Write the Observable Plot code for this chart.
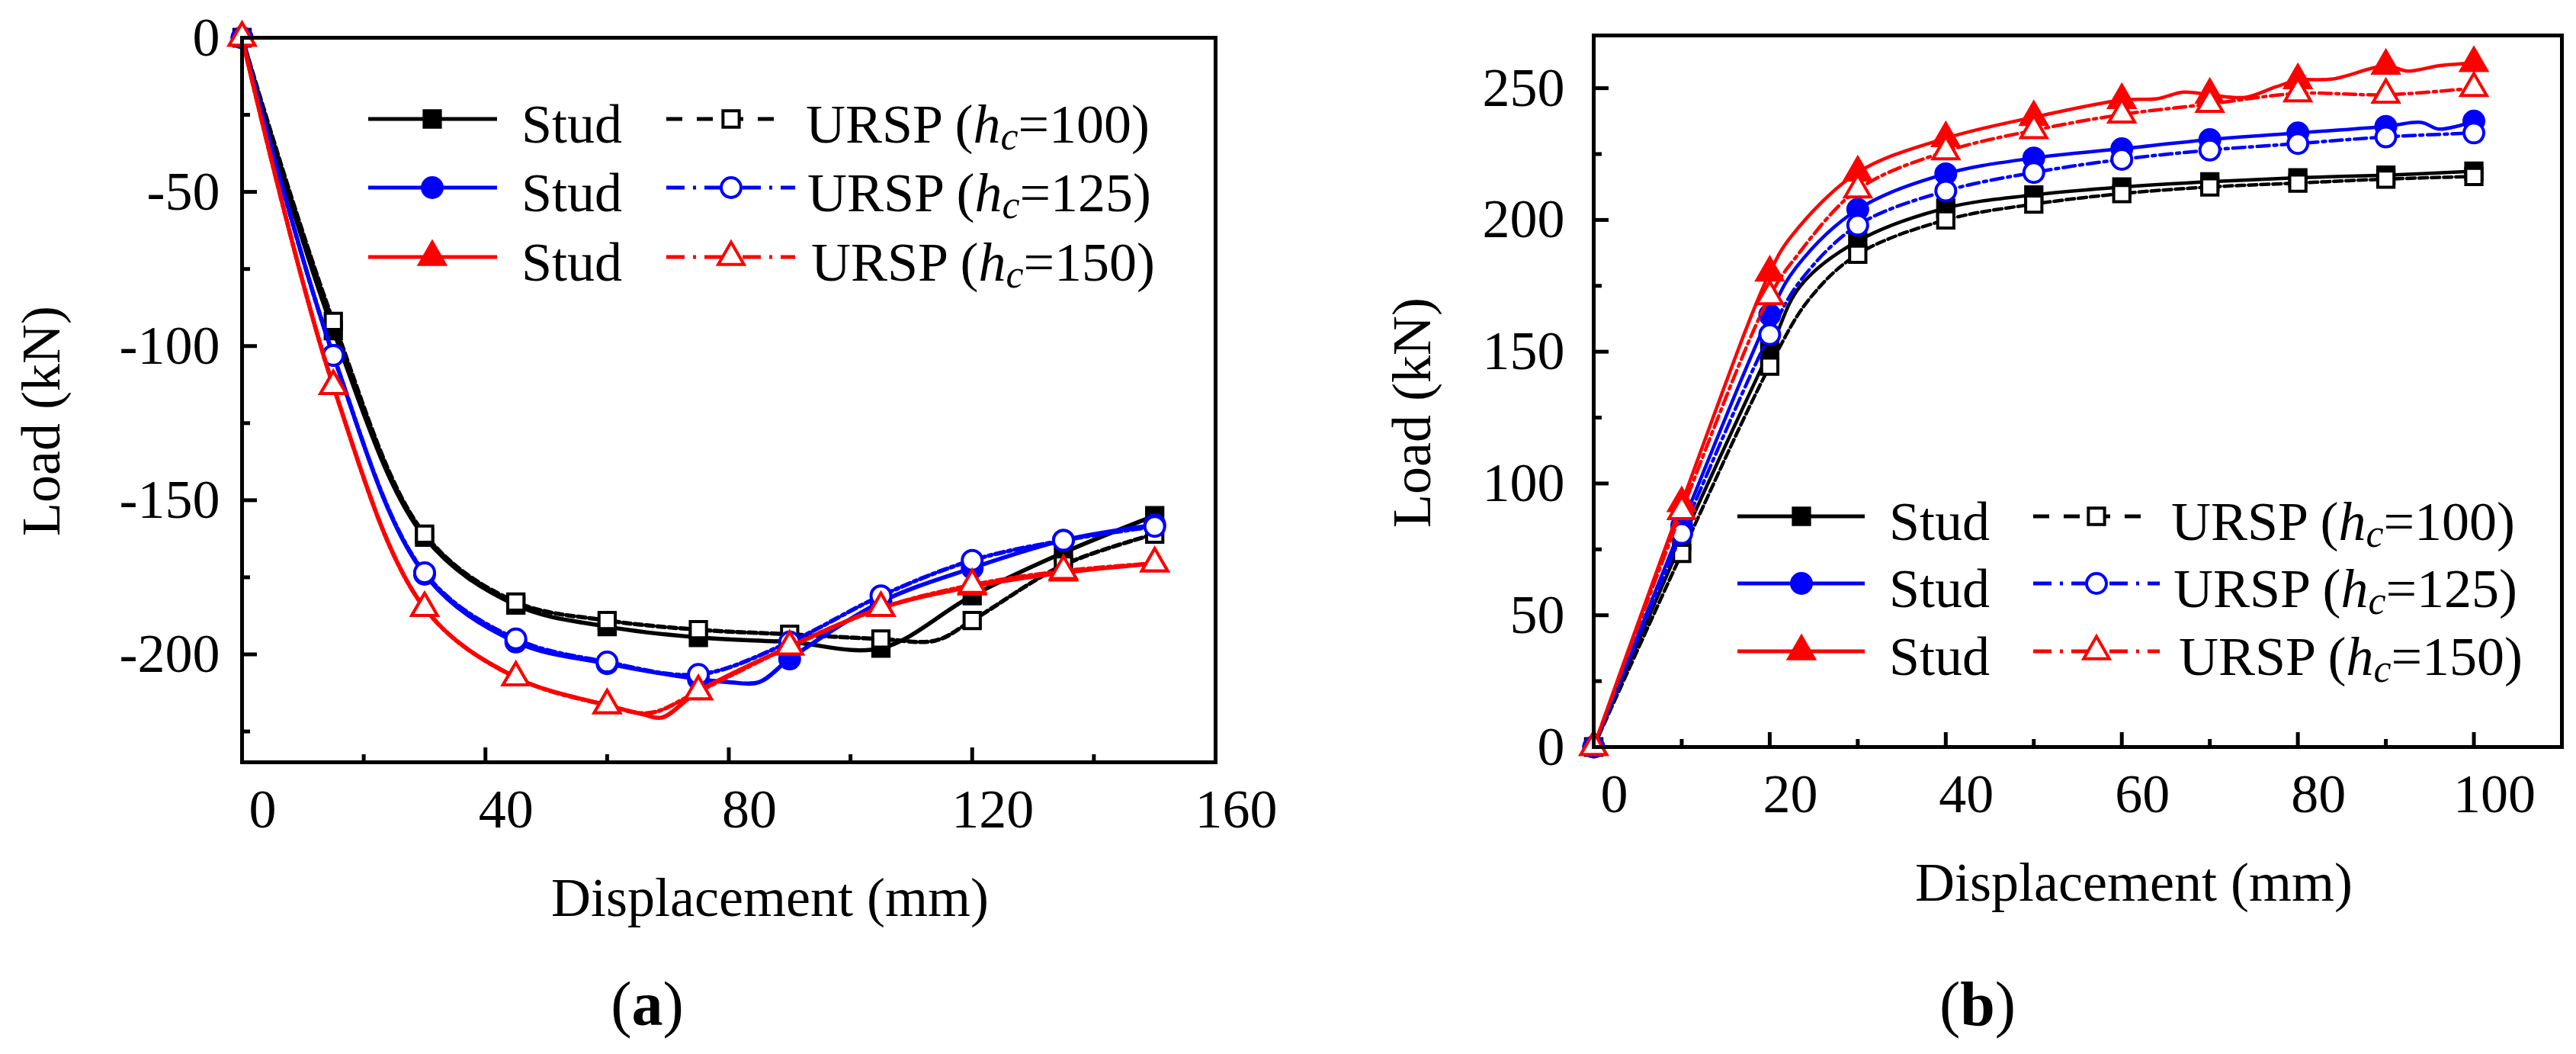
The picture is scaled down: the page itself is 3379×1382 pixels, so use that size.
<!DOCTYPE html>
<html>
<head>
<meta charset="utf-8">
<script src="https://cdn.jsdelivr.net/npm/d3@7"></script>
<script src="https://cdn.jsdelivr.net/npm/@observablehq/plot@0.6"></script>
<style>
  body { margin: 0; background: #fff; }
  #fig { position: relative; width: 3379px; height: 1382px; font-family: "Liberation Serif", "Times New Roman", serif; }
  #fig svg { position: absolute; }
</style>
</head>
<body>
<div id="fig"></div>
<script>
// --- panel (a): pull-out, load negative ---
const aMarkX = [0, 15, 30, 45, 60, 75, 90, 105, 120, 135, 150]
const aStud100 = [[0,0],[15,-95],[30,-162],[45,-184],[60,-191],[75,-194.5],[90,-196],[105,-198],[120,-181],[135,-167],[150,-155]]
const aUrsp100 = [[0,0],[15,-92],[30,-161],[45,-183],[60,-189],[75,-192],[90,-193.5],[105,-195],[114,-195.5],[120,-189],[135,-171],[150,-161]]
const aStud125 = [[0,0],[15,-103],[30,-174],[45,-196],[60,-203],[75,-208],[80,-209],[85,-209],[90,-201.5],[105,-183],[120,-172],[135,-163],[150,-158]]
const aUrsp125 = [[0,0],[15,-103],[30,-173.5],[45,-195],[60,-202.5],[75,-206.5],[90,-196],[105,-181],[120,-169.5],[135,-163],[150,-158.5]]
const aStud150 = [[0,0],[15,-113],[30,-185],[45,-207.5],[60,-216.5],[66,-219.5],[69,-220.5],[75,-212],[90,-197.5],[105,-185],[120,-178],[135,-173.5],[150,-170.5]]
const aUrsp150 = [[0,0],[15,-113],[30,-185],[45,-207.5],[60,-216.5],[67,-219],[75,-212],[90,-197.5],[105,-185],[120,-177.5],[135,-173],[150,-170.5]]
const aTicksX = [0, 40, 80, 120, 160]
const aMinorX = [20, 60, 100, 140]
const aTicksY = [0, -50, -100, -150, -200]
const aMinorY = [-25, -75, -125, -175, -225]

// --- panel (b): push-out ---
const bMarkX = [0, 10, 20, 30, 40, 50, 60, 70, 80, 90, 100]
const bStud100 = [[0,0],[10,78],[20,150.5],[23.5,175],[30,192],[40,204.5],[50,209.5],[60,212.5],[70,214.5],[80,216],[90,217],[100,218.5]]
const bUrsp100 = [[0,0],[10,73.5],[20,144.5],[24.5,170],[30,187],[40,200],[50,206],[60,210],[70,212.5],[80,214],[90,215.5],[100,216.5]]
const bStud125 = [[0,0],[10,84],[20,164],[23,182],[30,204],[40,217.5],[50,223.5],[60,227],[70,230.5],[80,233],[90,235.5],[94,237],[96,234.5],[98,235.5],[100,237.5]]
const bUrsp125 = [[0,0],[10,81],[20,156.5],[23.5,177],[30,198],[40,211],[50,218],[60,223],[70,226.5],[80,229],[90,231.5],[100,233]]
const bStud150 = [[0,0],[10,92.5],[20,180],[22.5,194],[30,218],[40,231],[50,239],[60,245.5],[64,246],[67,248.5],[70,247.5],[74,246.5],[77.5,250.5],[80,253],[84,253.5],[90,258.5],[92.5,256.5],[96,258.5],[100,259.5]]
const bUrsp150 = [[0,0],[10,89.5],[20,171],[23,186],[30,211.5],[40,226],[50,234],[60,240],[70,244],[80,248],[90,247.5],[100,250]]
const bTicksX = [0, 20, 40, 60, 80, 100]
const bMinorX = [10, 30, 50, 70, 90]
const bTicksY = [0, 50, 100, 150, 200, 250]
const bMinorY = [25, 75, 125, 175, 225]

const legendLabels = ['URSP (h_c=100)', 'URSP (h_c=125)', 'URSP (h_c=150)']

const BLUE = '#0000ff', RED = '#ff0000'
// style per series, in drawing order
const styles = [
  {color: 'black', symbol: 'square', r: 12, open: false, dash: null},
  {color: 'black', symbol: 'square', r: 12, open: true, dash: 'dash'},
  {color: BLUE, symbol: 'circle', r: 13, open: false, dash: null},
  {color: BLUE, symbol: 'circle', r: 13, open: true, dash: 'dot'},
  {color: RED, symbol: 'triangle', r: 12.5, open: false, dash: null},
  {color: RED, symbol: 'triangle', r: 12.5, open: true, dash: 'dot'},
]

function seriesMarks(list, markX, lw, dashes) {
  return list.flatMap((data, i) => {
    const s = styles[i]
    const pts = data.map(([x, y]) => ({x, y}))
    const mk = pts.filter(p => markX.includes(p.x))
    return [
      Plot.line(pts, {x: 'x', y: 'y', stroke: s.color, strokeWidth: lw, curve: 'catmull-rom',
        strokeDasharray: s.dash ? dashes[s.dash] : null}),
      Plot.dot(mk, {x: 'x', y: 'y', symbol: s.symbol, r: s.r, stroke: s.color, strokeWidth: 4,
        fill: s.open ? 'white' : s.color})
    ]
  })
}

function panel(o) {
  return Plot.plot({
    width: o.width, height: o.height,
    marginLeft: o.ml, marginRight: o.mr, marginTop: o.mt, marginBottom: o.mb,
    style: {fontFamily: '"Liberation Serif", "Times New Roman", serif', fontSize: '72px',
      color: 'black', background: 'transparent', overflow: 'visible'},
    x: {domain: o.xd},
    y: {domain: o.yd},
    marks: [
      Plot.axisX(o.tx, {tickSize: 0, tickPadding: 34, dx: 27, label: null, tickFormat: d => String(d)}),
      Plot.axisX(o.tx, {tickSize: -19, strokeWidth: 5, text: null, label: null}),
      Plot.axisX(o.mx, {tickSize: -10, strokeWidth: 5, text: null, label: null}),
      Plot.axisY(o.ty, {tickSize: 0, tickPadding: o.pad, label: null, tickFormat: d => String(d)}),
      Plot.axisY(o.ty, {tickSize: -20, strokeWidth: 5, text: null, label: null}),
      Plot.axisY(o.my, {tickSize: -11, strokeWidth: 5, text: null, label: null}),
      ...seriesMarks(o.series, o.markX, o.lw, o.dashes),
      Plot.frame({stroke: 'black', strokeWidth: 5}),
    ]
  })
}

const fig = d3.select('#fig')

const chartA = panel({
  width: 1690, height: 1090, ml: 317, mr: 96, mt: 49, mb: 91,
  xd: [0, 160], yd: [-235, 0], tx: aTicksX, mx: aMinorX, ty: aTicksY, my: aMinorY, pad: 29,
  series: [aStud100, aUrsp100, aStud125, aUrsp125, aStud150, aUrsp150], markX: aMarkX, lw: 5.5,
  dashes: {dash: '10,5', dot: '12,5,4,5'}
})
chartA.style.left = '0px'; chartA.style.top = '0px'
fig.append(() => chartA)

const chartB = panel({
  width: 1679, height: 1090, ml: 390, mr: 19, mt: 46, mb: 111,
  xd: [0, 110], yd: [0, 270], tx: bTicksX, mx: bMinorX, ty: bTicksY, my: bMinorY, pad: 38,
  series: [bStud100, bUrsp100, bStud125, bUrsp125, bStud150, bUrsp150], markX: bMarkX, lw: 4.5,
  dashes: {dash: '11,5', dot: '16,6,4,6'}
})
chartB.style.left = '1700px'; chartB.style.top = '0px'
fig.append(() => chartB)

// titles, captions and legends on an overlay
const over = fig.append('svg').attr('width', 3379).attr('height', 1382)
  .style('left', '0px').style('top', '0px')
  .attr('font-family', '"Liberation Serif", "Times New Roman", serif').attr('font-size', 72)

function title(x, y, txt, rot) {
  over.append('text').attr('transform', `translate(${x},${y})` + (rot ? ' rotate(-90)' : ''))
    .attr('text-anchor', 'middle').text(txt)
}
title(78, 552, 'Load (kN)', true)
title(1876, 541, 'Load (kN)', true)
title(1010, 1201, 'Displacement (mm)')
title(2799, 1181, 'Displacement (mm)')

function caption(x, letter) {
  const t = over.append('text').attr('x', x).attr('y', 1344).attr('text-anchor', 'middle').attr('font-size', 82)
  t.append('tspan').text('(')
  t.append('tspan').attr('font-weight', 'bold').text(letter)
  t.append('tspan').text(')')
}
caption(849, 'a')
caption(2594, 'b')

const legDash = {dash: '21,19', dot: '24,11,4,11'}
function swatch(x1, x2, xm, y, s) {
  over.append('line').attr('x1', x1).attr('x2', x2).attr('y1', y).attr('y2', y)
    .attr('stroke', s.color).attr('stroke-width', 5)
    .attr('stroke-dasharray', s.dash ? legDash[s.dash] : null)
  const sym = {square: d3.symbolSquare, circle: d3.symbolCircle, triangle: d3.symbolTriangle}[s.symbol]
  over.append('path').attr('transform', `translate(${xm},${y})`)
    .attr('d', d3.symbol(sym, s.r * s.r * Math.PI)())
    .attr('fill', s.open ? 'white' : s.color).attr('stroke', s.color).attr('stroke-width', 4)
}
function ursp(x, y, label) {
  const [pre, num] = label.split('h_c')
  const t = over.append('text').attr('x', x).attr('y', y)
  t.append('tspan').text(pre)
  t.append('tspan').attr('font-style', 'italic').text('h')
  t.append('tspan').attr('font-style', 'italic').attr('font-size', 52).attr('dy', 9).text('c')
  t.append('tspan').attr('dy', -9).text(num)
}
function legend(rows, studX, urspX, textStud, textUrsp) {
  rows.forEach((y, k) => {
    swatch(studX[0], studX[1], studX[2], y, styles[2 * k])
    over.append('text').attr('x', textStud).attr('y', y + 31).text('Stud')
    swatch(urspX[0], k === 0 ? urspX[1] : urspX[1] + 25, urspX[2], y, styles[2 * k + 1])
    ursp(textUrsp[k], y + 31, legendLabels[k])
  })
}
legend([156, 246, 337], [483, 652, 567], [874, 1018, 959], 684, [1057, 1059, 1064])
legend([677, 765, 854], [2279, 2446, 2363], [2667, 2808, 2750], 2478, [2848, 2851, 2858])
</script>
</body>
</html>
